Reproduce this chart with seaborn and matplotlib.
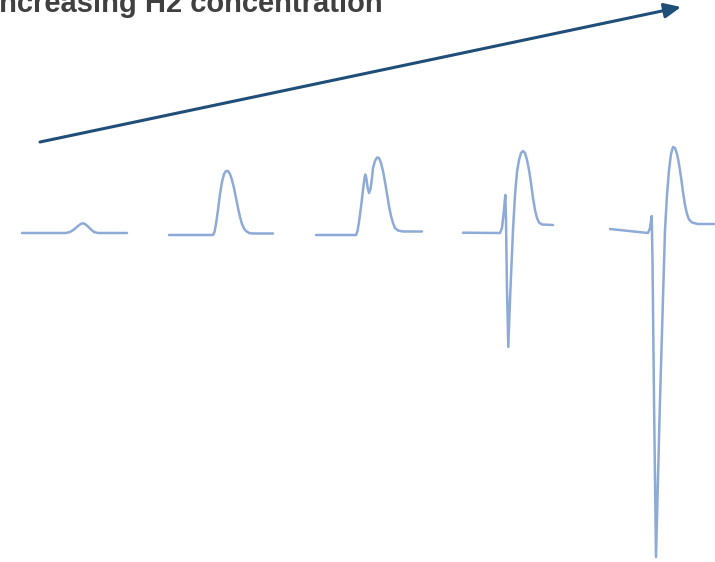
import numpy as np
import pandas as pd
import matplotlib
matplotlib.use("Agg")
import matplotlib.pyplot as plt
import seaborn as sns

### Data (pixel-like units, y grows downwards)
trace1_x = [22, 66, 70, 74, 78, 81, 83, 85, 88, 91, 94, 98, 127]
trace1_y = [233, 233, 232, 229.5, 226, 223.8, 223.3, 224, 226.5, 229.5, 232, 233, 233]

trace2_x = [169, 213, 214.5, 216, 218, 220, 222, 224, 226, 228, 230, 232, 234, 236,
            238, 240, 242, 244, 246, 249, 253, 273]
trace2_y = [235, 235, 232, 224, 210, 194, 182, 174, 171, 171, 174, 180, 188, 198,
            208, 217, 224, 228.5, 231, 233, 233.5, 233.5]

trace3_x = [316, 356, 357.5, 359, 361, 363, 364.5, 365.3, 366.3, 367.5, 369, 370.5, 372,
            373, 375, 377, 379, 381, 383, 385, 387, 389, 391, 393, 395, 398, 403, 422]
trace3_y = [235, 235, 231, 222, 207, 190, 178, 174.5, 178, 187, 193, 189, 178,
            168, 161, 157.5, 158, 163, 171, 182, 194, 206, 216, 223, 228, 230.5, 231.5, 231.5]

trace4_x = [463, 500, 502, 504, 505.3, 506, 507, 508.3, 510, 513, 515, 517, 519, 521,
            523, 525, 527, 529, 531, 533, 535, 537, 539, 542, 553]
trace4_y = [232.7, 233, 228, 210, 195, 220, 290, 347, 300, 230, 195, 172, 160, 153,
            151, 153, 160, 170, 183, 198, 210, 218, 222.5, 224.5, 225]

trace5_x = [610, 648, 650, 651.7, 652.5, 654, 656, 660, 665, 667, 669, 671, 673, 675,
            677, 679, 681, 683, 685, 687, 689, 692, 698, 714]
trace5_y = [229, 233, 228, 216, 260, 400, 557, 400, 230, 195, 170, 154, 147, 148,
            154, 164, 177, 192, 205, 214, 219.5, 222.5, 224, 224]

traces = [(trace1_x, trace1_y), (trace2_x, trace2_y), (trace3_x, trace3_y),
          (trace4_x, trace4_y), (trace5_x, trace5_y)]

TITLE = "Increasing H2 concentration"
TRACE_COLOR = "#8eaad6"
ARROW_COLOR = "#1f4e79"

### Plot
sns.set_style("white")
plt.rcParams["font.family"] = ["Liberation Sans", "DejaVu Sans"]

fig = plt.figure(figsize=(7.15, 5.62), dpi=100)
ax = fig.add_axes([0, 0, 1, 1])

for xs, ys in traces:
    df = pd.DataFrame({"x": xs, "y": ys})
    sns.lineplot(data=df, x="x", y="y", sort=False, estimator=None,
                 color=TRACE_COLOR, linewidth=1.8, ax=ax)

ax.annotate("", xy=(681, 7), xytext=(40, 142),
            arrowprops=dict(arrowstyle="-|>,head_length=1.0,head_width=0.45",
                            color=ARROW_COLOR, lw=2.2, shrinkA=0, shrinkB=0))

ax.text(383, 12, TITLE, ha="right", va="baseline", fontsize=21,
        fontweight="bold", color="#404040")

ax.set_xlim(0, 715)
ax.set_ylim(562, 0)
ax.axis("off")

plt.savefig("out.png", dpi=100)
